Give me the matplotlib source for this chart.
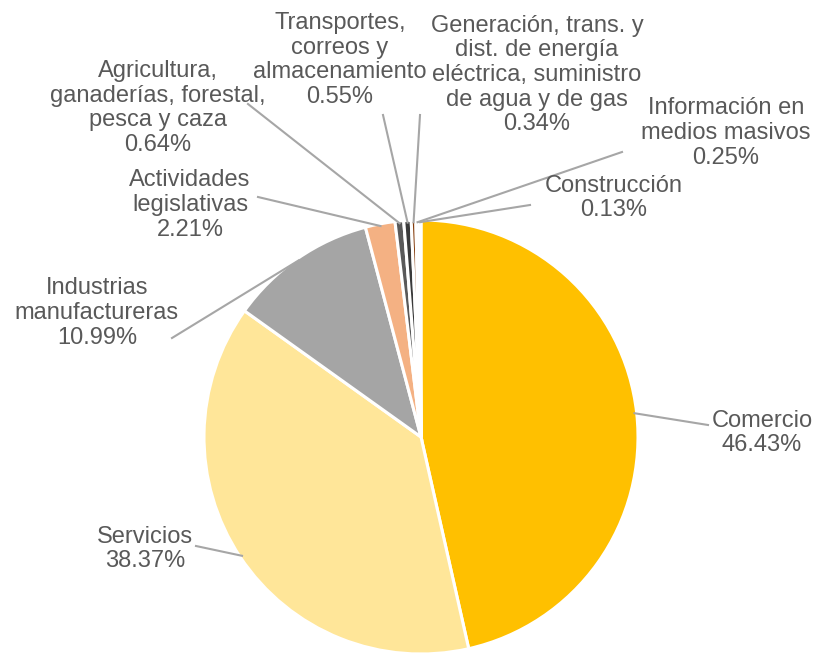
import numpy as np
import matplotlib.pyplot as plt

plt.rcParams['font.family'] = ['Liberation Sans', 'DejaVu Sans']

sectores = ['Comercio', 'Servicios', 'Industrias\nmanufactureras', 'Actividades\nlegislativas',
            'Agricultura,\nganaderías, forestal,\npesca y caza',
            'Transportes,\ncorreos y\nalmacenamiento',
            'Generación, trans. y\ndist. de energía\neléctrica, suministro\nde agua y de gas',
            'Información en\nmedios masivos', 'Construcción']
porcentajes = [46.43, 38.37, 10.99, 2.21, 0.64, 0.55, 0.34, 0.25, 0.13]
colores = ['#FFC000', '#FFE699', '#A5A5A5', '#F4B183', '#595959',
           '#3A3A3A', '#843C0C', '#FFFFFF', '#A9D18E']

# label placement (pixel coords, y from top): text centre, leader end
texto_xy = [(762, 433), (145, 549), (97, 313), (190, 205), (158, 108),
            (340, 60), (537, 75), (726, 133), (614, 198)]
linea_fin = [(708, 425), (196, 546), (172, 338), (258, 197), (248, 104),
             (383, 115), (420, 115), (622, 152), (530, 205)]

W, H = 816, 655
cx, cy, r = 421, 437, 217

fig = plt.figure(figsize=(W / 100, H / 100), dpi=100)
ax = fig.add_axes([0, 0, 1, 1])

ax.pie(porcentajes, colors=colores, startangle=90, counterclock=False,
       center=(cx, H - cy), radius=r,
       wedgeprops=dict(edgecolor='white', linewidth=2.2), frame=True)
ax.set_xlim(0, W)
ax.set_ylim(0, H)
ax.set_aspect('equal')
ax.axis('off')

total = sum(porcentajes)
acum = 0
for i, p in enumerate(porcentajes):
    mid = (acum + p / 2) / total * 360
    acum += p
    a = np.deg2rad(mid)
    x0 = cx + r * 0.99 * np.sin(a)
    y0 = cy - r * 0.99 * np.cos(a)
    x1, y1 = linea_fin[i]
    ax.plot([x0, x1], [H - y0, H - y1], color='#A6A6A6', lw=1.5, zorder=1)
    tx, ty = texto_xy[i]
    ax.text(tx, H - ty, f'{sectores[i]}\n{p:.2f}%', ha='center', va='center',
            fontsize=17, color='#595959', linespacing=1.15)

fig.savefig('out.png', dpi=100)
